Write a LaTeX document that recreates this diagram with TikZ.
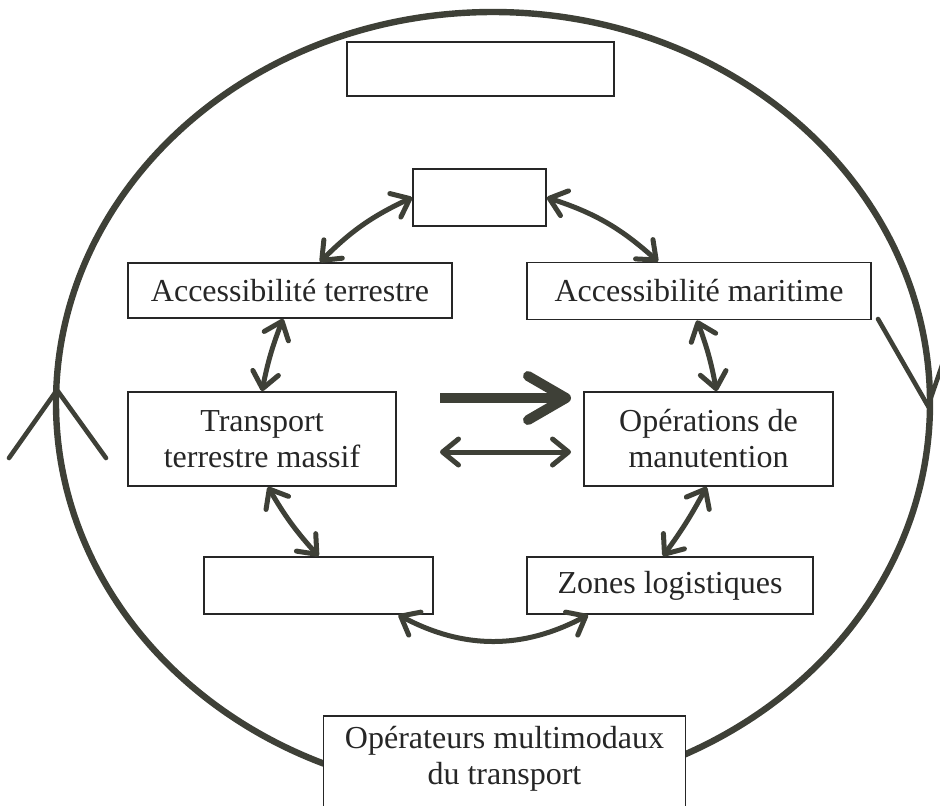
\documentclass[tikz,border=0pt]{standalone}
\usepackage{fontspec}
\setmainfont{Liberation Serif}
\usetikzlibrary{arrows.meta}

\definecolor{encre}{RGB}{62,64,55}
\definecolor{trait}{RGB}{38,38,38}

\begin{document}
\begin{tikzpicture}[x=0.5pt,y=-0.5pt,
  >={Straight Barb[length=8pt,width=13pt,round]},
  bloc/.style={draw=trait,line width=0.9pt,fill=white,inner sep=0pt,align=center,
    font=\fontsize{16}{18}\selectfont,text=black!85},
  lien/.style={draw=encre,line width=2.5pt,<->},
  gros/.style={draw=encre,line width=5pt,-{Straight Barb[length=19pt,width=22pt,round]}},
  boucle/.style={draw=encre,line width=3.2pt},
  branche/.style={draw=encre,line width=2.3pt,line cap=round}]
  \useasboundingbox (0,0) rectangle (940,805);

  % grand cycle
  \draw[boucle] (493,403) ellipse [x radius=218.5pt,y radius=195.5pt];
  \coordinate (hautG) at (57,390);
  \coordinate (basD) at (928,406);
  \draw[branche] (9,458) -- (hautG) -- (106,458);
  \draw[branche] (878,319) -- (basD) -- (958,319);

  % blocs
  \node[bloc,minimum width=133.5pt,minimum height=27pt] (titre) at (480.5,69) {};
  \node[bloc,minimum width=66.5pt,minimum height=28.5pt] (port) at (479.5,197.5) {};
  \node[bloc,minimum width=162pt,minimum height=27.5pt] (terre) at (290,290.5) {Accessibilité terrestre};
  \node[bloc,minimum width=172pt,minimum height=28.5pt] (mer) at (699,291) {Accessibilité maritime};
  \node[bloc,minimum width=134pt,minimum height=47pt] (transp) at (262,439) {Transport\\terrestre massif};
  \node[bloc,minimum width=124.5pt,minimum height=47pt] (manut) at (708.5,439) {Opérations de\\manutention};
  \node[bloc,minimum width=114.5pt,minimum height=28.5pt] (vide) at (318.5,585.5) {};
  \node[bloc,minimum width=142.7pt,minimum height=28.5pt] (zones) at (670,585.5) {Zones logistiques};
  \node[bloc,minimum width=181pt,anchor=north,inner ysep=5pt,text depth=60pt] (oper) at (504.5,715)
    {Opérateurs multimodaux\\du transport};

  % liaisons
  \draw[lien] ([xshift=15pt]terre.north) to[bend left=10] (port.west);
  \draw[lien] (port.east) to[bend left=12] ([xshift=-20.5pt]mer.north);
  \draw[lien] ([xshift=-3.5pt]terre.south) to[bend right=5] (transp.north);
  \draw[lien] ([xshift=-1pt]mer.south) to[bend left=5] ([xshift=4pt]manut.north);
  \draw[lien] ([xshift=3pt]transp.south) to[bend right=6] (vide.north);
  \draw[lien] ([xshift=-1pt]manut.south) to[bend left=4] ([xshift=-3.5pt]zones.north);
  \draw[lien] ([xshift=40pt]vide.south) to[bend right=28] ([xshift=-41pt]zones.south);

  \coordinate (flecheA) at (440,398);
  \coordinate (flecheB) at (571,398);
  \coordinate (doubleA) at (440,452);
  \coordinate (doubleB) at (571,452);
  \draw[gros] (flecheA) -- (flecheB);
  \draw[lien] (doubleA) -- (doubleB);
\end{tikzpicture}
\end{document}
